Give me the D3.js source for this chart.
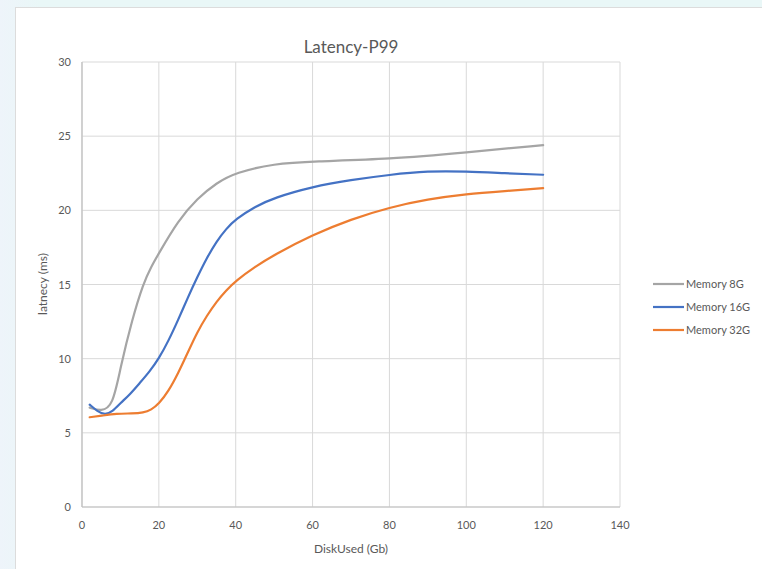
<!doctype html>
<html lang="en">
<head>
<meta charset="utf-8">
<title>Latency-P99</title>
<script src="https://cdn.jsdelivr.net/npm/d3@7"></script>
<style>
html, body { margin:0; padding:0; width:762px; height:569px; overflow:hidden;
  background: linear-gradient(90deg, #eef4fa 0px, #e9f7f7 40px, #e9f7f7 100%); }
#card { position:absolute; left:15px; top:7px; width:760px; height:570px; background:#fff;
  border:1px solid #dcdcdc; box-sizing:border-box; }
svg { position:absolute; left:0; top:0; }
text { font-family: Lato, "Open Sans", sans-serif; fill:#595959; }
.grid line { stroke:#d9d9d9; stroke-width:1; }
</style>
</head>
<body>
<div id="card"></div>
<svg id="chart" width="762" height="569"></svg>
<script>
// values (DiskUsed Gb -> latency ms)
const mem8x  = [2, 5, 8, 10, 13, 16, 18, 20, 25, 30, 35, 40, 50, 60, 80, 100, 120];
const mem8y  = [6.7, 6.45, 6.8, 9.4, 12.6, 15.1, 16.2, 17.1, 19.3, 20.8, 21.85, 22.55, 23.15, 23.3, 23.45, 23.9, 24.4];
const mem16x = [2, 4, 6, 8, 10, 12.5, 15, 17.5, 20, 22.5, 25, 27.5, 30, 32.5, 35, 37.5, 40, 45, 50, 60, 70, 80, 90, 100, 110, 120];
const mem16y = [6.9, 6.45, 6.2, 6.45, 7.0, 7.6, 8.35, 9.1, 10.0, 11.2, 12.6, 14.1, 15.5, 16.8, 17.9, 18.75, 19.4, 20.25, 20.85, 21.6, 22.05, 22.4, 22.65, 22.62, 22.5, 22.4];
const mem32x = [2, 5, 9, 13, 16, 18, 20, 22.5, 25, 27.5, 30, 32.5, 35, 37.5, 40, 45, 50, 60, 70, 80, 90, 100, 110, 120];
const mem32y = [6.05, 6.15, 6.3, 6.3, 6.35, 6.55, 6.95, 7.8, 9.0, 10.4, 11.8, 12.9, 13.85, 14.6, 15.25, 16.2, 17.0, 18.35, 19.4, 20.2, 20.75, 21.1, 21.3, 21.5];
const seriesNames = ["Memory 8G", "Memory 16G", "Memory 32G"];
const colors = ["#a5a5a5", "#4472c4", "#ed7d31"];
const xTicks = [0, 20, 40, 60, 80, 100, 120, 140];
const yTicks = [0, 5, 10, 15, 20, 25, 30];

const series = [
  mem8x.map((x, i) => [x, mem8y[i]]),
  mem16x.map((x, i) => [x, mem16y[i]]),
  mem32x.map((x, i) => [x, mem32y[i]])
];

const svg = d3.select("#chart");
const x = d3.scaleLinear().domain([0, 140]).range([82, 620]);
const y = d3.scaleLinear().domain([0, 30]).range([507, 62]);

// gridlines
const grid = svg.append("g").attr("class", "grid");
grid.selectAll(".v").data(xTicks).enter().append("line")
  .attr("x1", d => x(d)).attr("x2", d => x(d))
  .attr("y1", y(30)).attr("y2", y(0));
grid.selectAll(".h").data(yTicks).enter().append("line")
  .attr("x1", x(0)).attr("x2", x(140))
  .attr("y1", d => y(d)).attr("y2", d => y(d));

// axis base lines
svg.append("line").attr("x1", x(0)).attr("x2", x(140)).attr("y1", y(0)).attr("y2", y(0))
  .attr("stroke", "#bfbfbf").attr("stroke-width", 1.2);
svg.append("line").attr("x1", x(0)).attr("x2", x(0)).attr("y1", y(0)).attr("y2", y(30))
  .attr("stroke", "#bfbfbf").attr("stroke-width", 1.2);

// tick labels
svg.selectAll(".xt").data(xTicks).enter().append("text")
  .attr("x", d => x(d)).attr("y", 529).attr("text-anchor", "middle")
  .attr("font-size", 11).text(d => d);
svg.selectAll(".yt").data(yTicks).enter().append("text")
  .attr("x", 71).attr("y", d => y(d) + 4).attr("text-anchor", "end")
  .attr("font-size", 11).text(d => d);

// titles
svg.append("text").attr("x", 351).attr("y", 53).attr("text-anchor", "middle")
  .attr("font-size", 17).text("Latency-P99");
svg.append("text").attr("x", 351).attr("y", 553).attr("text-anchor", "middle")
  .attr("font-size", 12).text("DiskUsed (Gb)");
svg.append("text").attr("transform", "translate(47,284) rotate(-90)").attr("text-anchor", "middle")
  .attr("font-size", 12).text("latnecy (ms)");

// lines (smoothed like the spreadsheet's "smoothed line")
const line = d3.line().x(d => x(d[0])).y(d => y(d[1])).curve(d3.curveBasis);
svg.selectAll(".series").data(series).enter().append("path")
  .attr("d", line).attr("fill", "none")
  .attr("stroke", (d, i) => colors[i]).attr("stroke-width", 2.2)
  .attr("stroke-linecap", "round");

// legend
const lg = svg.selectAll(".lg").data(seriesNames).enter().append("g")
  .attr("transform", (d, i) => `translate(653,${284 + i * 23})`);
lg.append("line").attr("x1", 0).attr("x2", 31).attr("y1", 0).attr("y2", 0)
  .attr("stroke", (d, i) => colors[i]).attr("stroke-width", 2.2);
lg.append("text").attr("x", 33).attr("y", 4).attr("font-size", 11).text(d => d);
</script>
</body>
</html>
